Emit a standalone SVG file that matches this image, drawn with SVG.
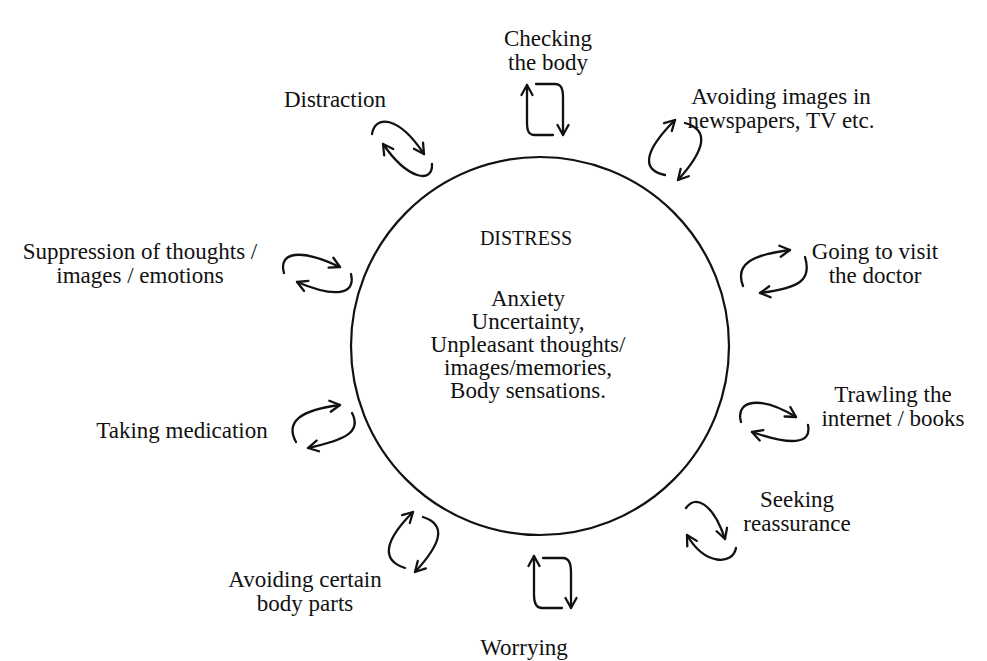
<svg xmlns="http://www.w3.org/2000/svg" width="987" height="661" viewBox="0 0 987 661">
<style>
text{font-family:"Liberation Serif","Times New Roman",serif;font-size:23px;fill:#111;text-anchor:middle}
.c{fill:none;stroke:#111;stroke-width:2.2;stroke-linecap:round;stroke-linejoin:round}
.a{fill:none;stroke:#111;stroke-width:2.3;stroke-linecap:round;stroke-linejoin:round;marker-end:url(#ah)}
</style>
<defs>
<marker id="ah" viewBox="0 0 14 14" refX="12" refY="7" markerWidth="14" markerHeight="14" markerUnits="userSpaceOnUse" orient="auto">
<path d="M2,1.5 L12,7 L2,12.5" fill="none" stroke="#111" stroke-width="2.3" stroke-linecap="round" stroke-linejoin="round"/>
</marker>
</defs>
<rect width="987" height="661" fill="#fff"/>
<g id="distress">
<circle class="c" cx="540" cy="346" r="189"/>
<text x="526" y="245" style="font-size:20px">DISTRESS</text>
<text x="528" y="306">Anxiety</text>
<text x="528" y="329">Uncertainty,</text>
<text x="528" y="352">Unpleasant thoughts/</text>
<text x="528" y="375">images/memories,</text>
<text x="528" y="398">Body sensations.</text>
</g>
<g id="checking"><text x="548" y="46">Checking</text><text x="548" y="70">the body</text></g>
<g id="avoiding-images"><text x="781" y="104">Avoiding images in</text><text x="781" y="128">newspapers, TV etc.</text></g>
<g id="distraction"><text x="335" y="107">Distraction</text></g>
<g id="suppression"><text x="140" y="259">Suppression of thoughts /</text><text x="140" y="283">images / emotions</text></g>
<g id="doctor"><text x="875" y="259">Going to visit</text><text x="875" y="283">the doctor</text></g>
<g id="trawling"><text x="893" y="402">Trawling the</text><text x="893" y="426">internet / books</text></g>
<g id="medication"><text x="182" y="438">Taking medication</text></g>
<g id="reassurance"><text x="797" y="507">Seeking</text><text x="797" y="531">reassurance</text></g>
<g id="body-parts"><text x="305" y="587">Avoiding certain</text><text x="305" y="611">body parts</text></g>
<g id="worrying"><text x="524" y="655">Worrying</text></g>
<g id="connectors">
<path class="a" d="M372,134 C375,115 398,115 424,154"/>
<path class="a" d="M432,164 C433,184 408,180 383,144"/>
<path class="a" d="M553,135 L535,135 C528,135 527,130 527,122 L527,85"/>
<path class="a" d="M536,84 L555,84 C562,84 563,90 563,98 L563,135"/>
<path class="a" d="M665,175 C640,170 645,150 675,120"/>
<path class="a" d="M685,123 C710,130 705,150 678,180"/>
<path class="a" d="M743,286 C735,265 750,255 790,250"/>
<path class="a" d="M805,257 C812,280 800,288 760,293"/>
<path class="a" d="M284,273 C278,252 300,248 340,267"/>
<path class="a" d="M351,274 C356,295 335,298 297,282"/>
<path class="a" d="M741,422 C735,400 760,395 796,417"/>
<path class="a" d="M808,425 C812,445 790,445 752,432"/>
<path class="a" d="M296,442 C285,422 300,410 340,405"/>
<path class="a" d="M352,413 C362,432 345,440 308,448"/>
<path class="a" d="M686,508 C694,496 712,500 725,539"/>
<path class="a" d="M736,548 C733,565 705,566 687,535"/>
<path class="a" d="M405,568 C380,560 385,540 413,512"/>
<path class="a" d="M423,517 C448,525 440,545 415,572"/>
<path class="a" d="M562,608 L542,608 C536,608 534,602 534,595 L534,556"/>
<path class="a" d="M543,558 L563,558 C570,558 571,565 571,572 L571,608"/>
</g>
</svg>
